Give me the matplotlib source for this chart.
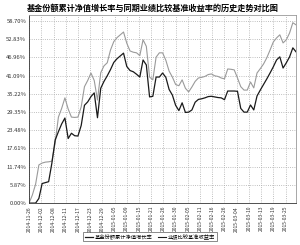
import numpy as np
import matplotlib
matplotlib.use("Agg")
import matplotlib.pyplot as plt

plt.rcParams['font.family'] = ['Noto Sans CJK SC', 'DejaVu Sans']

# cumulative NAV growth of the fund (%), one value per trading day
fund = [0, 0, 0, 1.5, 6.3, 6.6, 6.9, 12.9, 20.3, 23.0,
        25.5, 27.4, 20.8, 22.5, 21.7, 21.6, 25.0, 31.5, 32.6, 34.3,
        35.5, 27.5, 37.0, 39.2, 41.0, 43.0, 45.3, 46.5, 47.4, 48.3,
        44.0, 42.7, 42.3, 41.5, 40.6, 46.1, 44.5, 34.2, 34.4, 40.6,
        40.6, 41.9, 40.5, 36.6, 34.8, 31.5, 29.8, 32.3, 29.2, 29.3,
        30.0, 32.5, 33.4, 33.6, 33.9, 34.3, 34.4, 34.2, 34.0, 33.9,
        33.3, 36.1, 36.1, 36.1, 36.0, 30.5, 29.3, 29.3, 31.6, 30.0,
        34.5, 36.4, 38.2, 40.0, 41.9, 43.9, 46.1, 47.1, 43.5, 45.2,
        47.1, 50.0, 48.7]

# benchmark return over the same period (%)
bench = [0, 2.6, 6.1, 12.3, 12.9, 13.2, 13.3, 13.5, 19.4, 27.7,
         30.5, 33.9, 30.3, 27.7, 27.6, 27.7, 31.0, 37.5, 39.5, 41.9,
         39.5, 33.2, 42.0, 44.2, 45.2, 49.3, 52.0, 53.3, 54.2, 55.1,
         51.5, 49.0, 48.6, 48.4, 47.5, 52.6, 50.5, 40.6, 39.7, 47.0,
         48.4, 48.4, 46.0, 42.5, 40.6, 38.2, 37.8, 39.7, 37.0, 35.8,
         37.4, 39.2, 40.3, 40.5, 40.8, 41.4, 41.6, 41.0, 40.8, 40.3,
         40.0, 43.2, 43.1, 42.9, 40.3, 37.5, 36.4, 36.4, 39.0, 37.1,
         41.9, 43.3, 44.8, 46.8, 49.3, 51.9, 53.2, 54.2, 51.6, 52.6,
         54.8, 58.1, 57.4]

date_labels = ['2014-11-26', '2014-12-02', '2014-12-08', '2014-12-11',
               '2014-12-17', '2014-12-23', '2014-12-29', '2015-01-05',
               '2015-01-09', '2015-01-15', '2015-01-21', '2015-01-26',
               '2015-01-30', '2015-02-05', '2015-02-11', '2015-02-16',
               '2015-02-26', '2015-03-04', '2015-03-10', '2015-03-13',
               '2015-03-19', '2015-03-25']

y_ticks = [0.00, 5.87, 11.74, 17.61, 23.48, 29.35, 35.22, 41.09, 46.96, 52.83, 58.70]

fig = plt.figure(figsize=(3.0, 2.45), dpi=100)
ax = fig.add_axes([0.097, 0.171, 0.890, 0.768])

x = np.arange(len(fund))
ax.plot(x, bench, color='#9a9a9a', lw=0.8, label='业绩比较基准收益率')
ax.plot(x, fund, color='#1a1a1a', lw=0.9, label='基金份额累计净值增长率')

ax.set_xlim(0, len(fund) - 1)
ax.set_ylim(0, 60.6)

ax.set_yticks(y_ticks)
ax.set_yticklabels(['%.2f%%' % v for v in y_ticks], fontsize=4.2, color='#333333')
ax.set_xticks(np.arange(len(date_labels)) * 3.75)
ax.set_xticklabels(date_labels, rotation=90, fontsize=3.6, color='#333333')
ax.tick_params(length=0, pad=2)

ax.grid(True, color='#aaaaaa', ls=':', lw=0.6)
for s in ax.spines.values():
    s.set_color('#999999')
    s.set_linewidth(0.6)
ax.spines['left'].set_color('#333333')
ax.spines['bottom'].set_color('#333333')

fig.text(0.51, 0.967, '基金份额累计净值增长率与同期业绩比较基准收益率的历史走势对比图',
         ha='center', va='center', fontsize=5.9, fontweight='bold')

handles, labels = ax.get_legend_handles_labels()
leg = fig.legend(handles[::-1], labels[::-1], loc='center', bbox_to_anchor=(0.5, 0.033),
                 ncol=2, fontsize=3.8, frameon=True, fancybox=False, handlelength=1.6,
                 handletextpad=0.3, columnspacing=1.0, borderpad=0.3)
leg.get_frame().set_edgecolor('#333333')
leg.get_frame().set_linewidth(0.5)
for h in leg.get_lines():
    h.set_color('#1a1a1a')

fig.savefig('out.png', dpi=100)
